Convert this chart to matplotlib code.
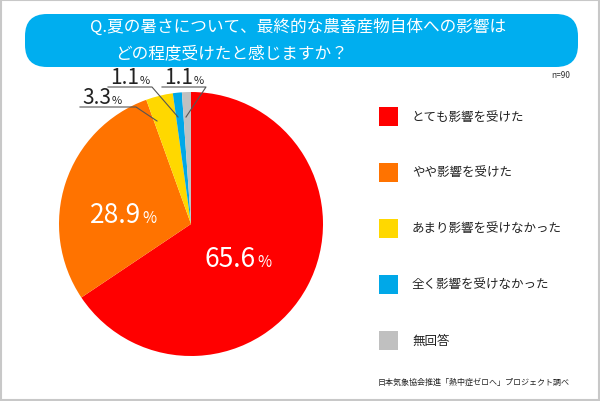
import matplotlib.pyplot as plt
from matplotlib.patches import FancyBboxPatch, Rectangle

plt.rcParams['font.family'] = 'Noto Sans CJK JP'

labels = ['とても影響を受けた', 'やや影響を受けた', 'あまり影響を受けなかった', '全く影響を受けなかった', '無回答']
values = [65.6, 28.9, 3.3, 1.1, 1.1]
colors = ['#ff0000', '#ff7300', '#ffd800', '#00a8e8', '#c0c0c0']

W, H = 600, 402
fig = plt.figure(figsize=(6, 4.02), dpi=100)

# overlay axes in pixel coordinates
ov = fig.add_axes([0, 0, 1, 1], zorder=5)
ov.set_xlim(0, W)
ov.set_ylim(H, 0)
ov.axis('off')
ov.patch.set_alpha(0)

ov.add_patch(Rectangle((1, 1), W - 2, H - 2, fill=False, edgecolor='#c8c8c8', lw=1.5))
ov.add_patch(FancyBboxPatch((25, 15), 553, 53, boxstyle='round,pad=0,rounding_size=22',
                            facecolor='#00aeef', edgecolor='none'))
ov.text(90, 27, 'Q.夏の暑さについて、最終的な農畜産物自体への影響は', color='white',
        fontsize=12, va='center')
ov.text(115, 54, 'どの程度受けたと感じますか？', color='white', fontsize=12, va='center')
ov.text(570, 75, 'n=90', fontsize=6, ha='right', va='center', color='#333333')

cx, cy, r = 191, 225, 132
ax = fig.add_axes([(cx - r) / W, 1 - (cy + r) / H, 2 * r / W, 2 * r / H])
ax.pie(values, colors=colors, startangle=90, counterclock=False, wedgeprops=dict(linewidth=0))
ax.set_xlim(-1, 1)
ax.set_ylim(-1, 1)
ax.set_aspect('auto')
ax.axis('off')

renderer = fig.canvas.get_renderer()

def pct_label(x, y, val, big, small, col):
    t = ov.text(x, y, f'{val}', fontsize=big, va='baseline', color=col)
    bb = t.get_window_extent(renderer)
    ov.text(x + bb.width + 1, y, '%', fontsize=small, va='baseline', color=col)
    return bb.width

pct_label(205, 267, values[0], 19, 11, 'white')
pct_label(90, 223, values[1], 19, 11, 'white')

small = [(82, 104, 136, 157, 122), (110, 84, 152, 178, 118), (164, 84, 206, 186, 118)]
for idx, (x0, y0, x1, xs, ys) in zip([2, 3, 4], small):
    pct_label(x0, y0, values[idx], 15, 8, '#222222')
    ov.plot([x0 - 2, x1, xs], [y0 + 4, y0 + 4, ys], color='#555555', lw=0.8)

for i, (lab, col) in enumerate(zip(labels, colors)):
    y = 117 + i * 56
    ov.add_patch(Rectangle((379, y - 9), 19, 19, facecolor=col, edgecolor='none'))
    ov.text(412, y, lab, fontsize=9, va='center', color='#222222')

ov.text(570, 382, '日本気象協会推進「熱中症ゼロへ」プロジェクト調べ', fontsize=5.8,
        ha='right', va='center', color='#222222')

fig.savefig('out.png', dpi=100)
